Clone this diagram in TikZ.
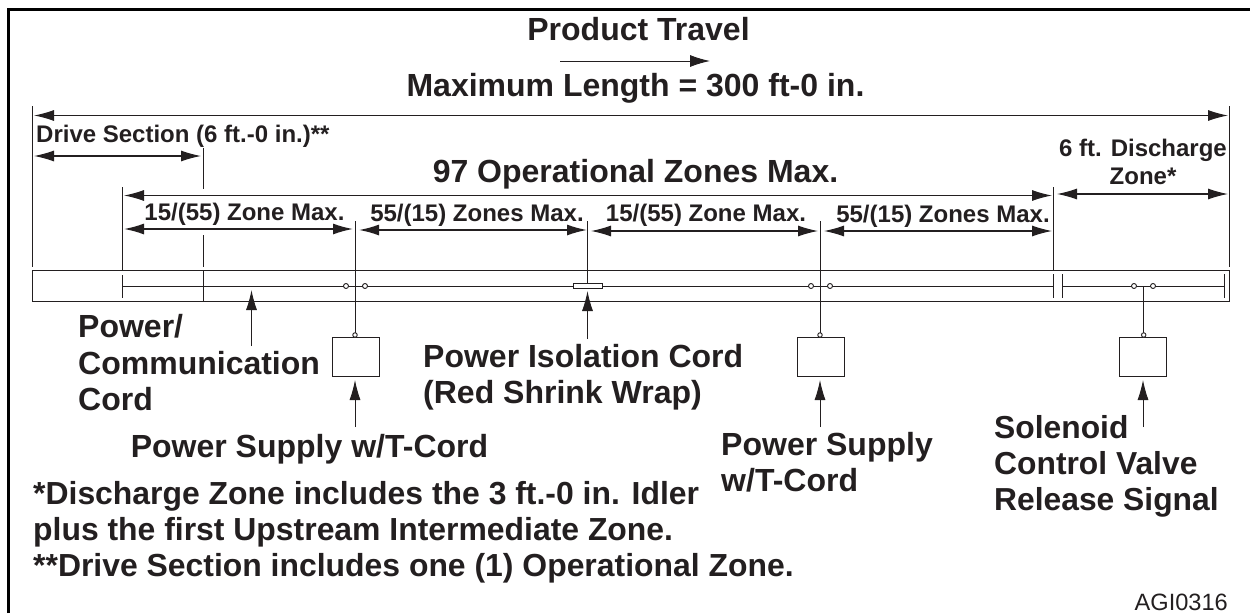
\documentclass[tikz,border=0pt]{standalone}
\usepackage{fontspec}
\setmainfont{Liberation Sans}
\usetikzlibrary{arrows.meta}
\definecolor{ink}{HTML}{231F20}
\tikzset{
  x=1pt,y=-1pt,
  thin line/.style={draw=ink,line width=0.9pt},
  dim/.style={draw=ink,line width=1.1pt,{Latex[length=20pt,width=11pt]}-{Latex[length=20pt,width=11pt]}},
  dimb/.style={draw=ink,line width=1.5pt,{Latex[length=20pt,width=11pt]}-{Latex[length=20pt,width=11pt]}},
  lead/.style={draw=ink,line width=0.9pt,-{Latex[length=20pt,width=11pt]}},
  lbl/.style={inner sep=0pt,text=ink,font=\bfseries\fontsize{32}{36.5}\selectfont,align=left},
  lblb/.style={inner sep=0pt,text=ink,font=\bfseries\fontsize{32}{36.5}\selectfont,align=center},
  lbls/.style={inner sep=0pt,text=ink,font=\bfseries\fontsize{24}{28}\selectfont,align=center},
  notes/.style={inner sep=0pt,text=ink,anchor=west,font=\bfseries\fontsize{31.9}{36}\selectfont},
  conn/.style={circle,draw=ink,line width=0.9pt,fill=white,minimum size=5pt,inner sep=0pt},
  unitbox/.style={draw=ink,line width=0.9pt,fill=white,minimum width=47pt,minimum height=39pt,inner sep=0pt},
}
\begin{document}
\begin{tikzpicture}
\useasboundingbox (0,0) rectangle (1250,613);
\draw[black,line width=3pt] (8.5,613) -- (8.5,9.5) -- (1250,9.5);
% conveyor
\node[draw=ink,line width=0.9pt,minimum width=1197pt,minimum height=30.5pt,inner sep=0pt] (body) at (631,286) {};
\draw[thin line] (32.5,106) -- (32.5,267);
\draw[thin line] (1229,106) -- (1229,267);
% titles
\node[lblb] (t1) at (638.5,29.5) {Product Travel};
\node[lblb] (t2) at (635.5,88.5) {Maximum Length = 300 ft-0 in.};
\coordinate (pa) at (560,61); \coordinate (pb) at (710,61);
\draw[draw=ink,line width=1pt,-{Latex[length=20pt,width=12pt]}] (pa) -- (pb);
\coordinate (ma) at (34,115.5); \coordinate (mb) at (1228,115.5);
\draw[dim] (ma) -- (mb);
\node[lbls,anchor=west] (drive) at (36,136.5) {Drive Section (6 ft.-0 in.)**};
\coordinate (da) at (34,156); \coordinate (db) at (201,156);
\draw[dim] (da) -- (db);
\node[lblb] (ops) at (635.5,174) {97 Operational Zones Max.};
\coordinate (oa) at (124,195.5); \coordinate (ob) at (1052,195.5);
\draw[dim] (oa) -- (ob);
\coordinate (ea) at (1057,194); \coordinate (eb) at (1228,194);
\draw[dim] (ea) -- (eb);
\node[lbls] (dis) at (1143,161.5) {6 ft. Discharge\\Zone*};
% zones
\node[lbls] at (244.5,214.5) {15/(55) Zone Max.};
\node[lbls] at (477,215.5) {55/(15) Zones Max.};
\node[lbls] at (706,215.5) {15/(55) Zone Max.};
\node[lbls] at (943,216.5) {55/(15) Zones Max.};
\coordinate (z1a) at (124,229); \coordinate (z1b) at (353,229);
\coordinate (z2a) at (359,230); \coordinate (z2b) at (587,230);
\coordinate (z3a) at (591,231); \coordinate (z3b) at (818,231);
\coordinate (z4a) at (824,231); \coordinate (z4b) at (1052,231);
\draw[dimb] (z1a) -- (z1b);
\draw[dimb] (z2a) -- (z2b);
\draw[dim] (z3a) -- (z3b);
\draw[dim] (z4a) -- (z4b);
% verticals
\draw[thin line] (122.5,187) -- (122.5,271);
\draw[thin line] (122.5,275) -- (122.5,298);
\draw[thin line] (203,148) -- (203,189);
\draw[thin line] (203,235) -- (203,267);
\draw[thin line] (203,271) -- (203,301);
\draw[thin line] (355,221) -- (355,336);
\draw[thin line] (587.5,221) -- (587.5,284);
\draw[thin line] (820,221) -- (820,336);
\draw[thin line] (1053,187) -- (1053,270);
\draw[thin line] (1053,274) -- (1053,298);
\draw[thin line] (1062.7,274) -- (1062.7,298);
\draw[thin line] (1224,274) -- (1224,298);
\draw[thin line] (1143.7,286) -- (1143.7,336);
% cord
\draw[thin line] (122.5,286) -- (1053,286);
\draw[thin line] (1062.7,286) -- (1224,286);
\node[draw=ink,line width=0.9pt,fill=white,minimum width=29pt,minimum height=5pt,inner sep=0pt] (iso) at (588,286) {};
\foreach \n/\x in {a/346,b/365,c/811,d/830,e/1134,f/1153} \node[conn] (c\n) at (\x,286) {};
% boxes
\node[unitbox] (b1) at (355.5,356.5) {};
\node[unitbox] (b2) at (820.5,356.5) {};
\node[unitbox] (b3) at (1143,356.5) {};
\foreach \x in {355,820,1143.7} \node[conn,minimum size=4.5pt] at (\x,335) {};
% leads
\coordinate (a1) at (251.5,346); \coordinate (a1t) at (251.5,290);
\draw[lead] (a1) -- (a1t);
\node[lbl,anchor=west] (cord) at (78,363) {Power/\\Communication\\Cord};
\coordinate (a2) at (587.5,339); \coordinate (a2t) at (587.5,291);
\draw[lead] (a2) -- (a2t);
\node[lbl,anchor=west] (isot) at (423,377) {Power Isolation Cord\\(Red Shrink Wrap)};
\coordinate (a3) at (355,427); \coordinate (a3t) at (355,380);
\draw[lead] (a3) -- (a3t);
\node[lblb] (ps1) at (309.5,449) {Power Supply w/T-Cord};
\coordinate (a4) at (820,427); \coordinate (a4t) at (820,380);
\draw[lead] (a4) -- (a4t);
\node[lbl,anchor=west] (ps2) at (721,462) {Power Supply\\w/T-Cord};
\coordinate (a5) at (1143,427); \coordinate (a5t) at (1143,380);
\draw[lead] (a5) -- (a5t);
\node[lbl,anchor=west,font=\bfseries\fontsize{31.8}{36}\selectfont] (sol) at (994,466) {Solenoid\\Control Valve\\Release Signal};
% notes
\node[notes] at (33,496) {*Discharge Zone includes the 3 ft.-0 in. Idler};
\node[notes] at (33,532.5) {plus the first Upstream Intermediate Zone.};
\node[notes] at (33,568) {**Drive Section includes one (1) Operational Zone.};
\node[inner sep=0pt,anchor=east,text=ink,font=\fontsize{23.6}{26}\selectfont] (agi) at (1228,602) {AGI0316};
\end{tikzpicture}
\end{document}
